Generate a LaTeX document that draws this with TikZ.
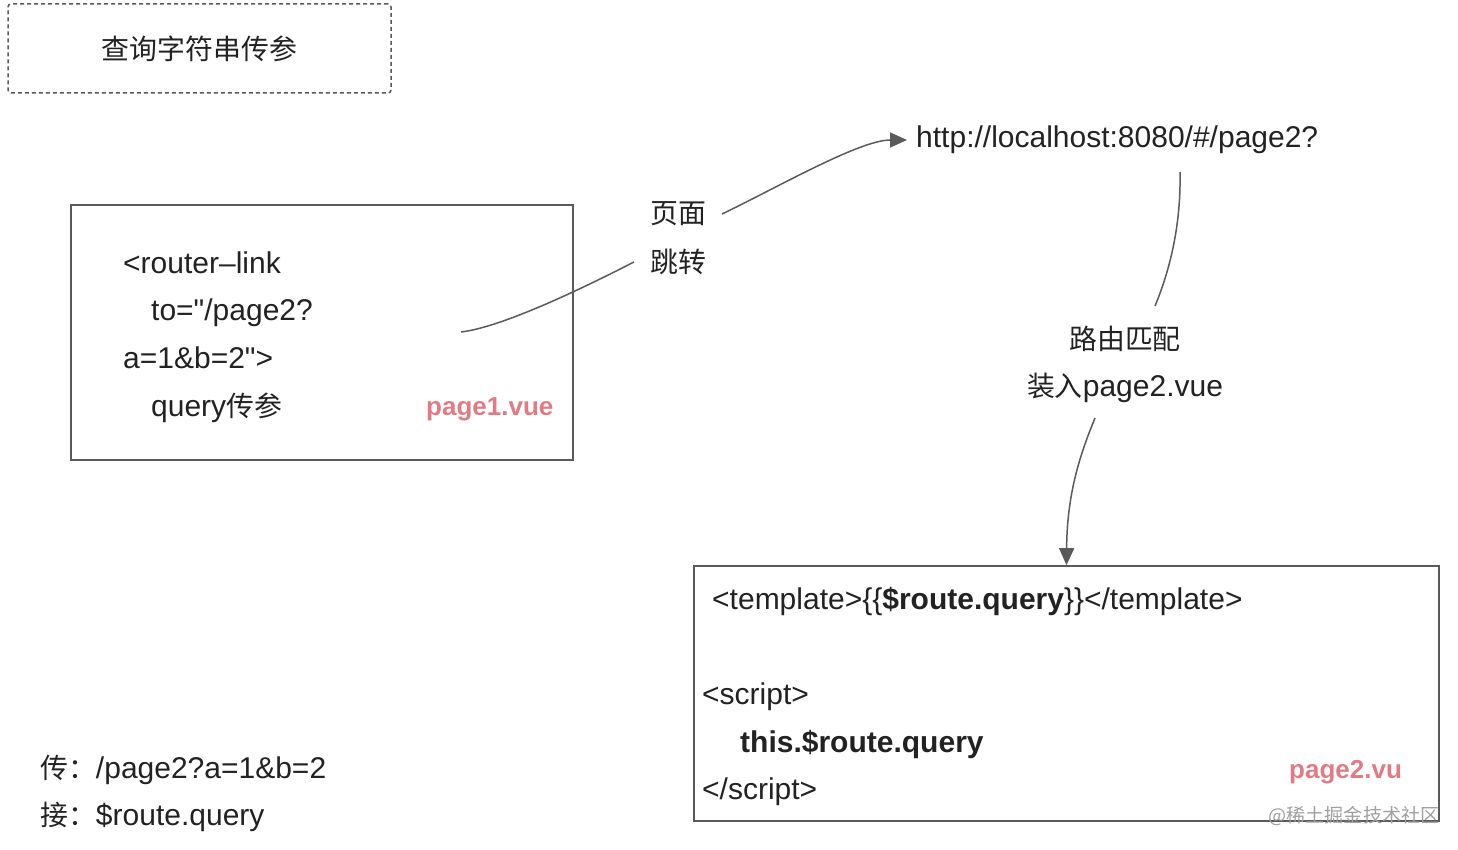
\documentclass[tikz,border=0pt]{standalone}
\usepackage{fontspec}
\setmainfont{Liberation Sans}
\newfontfamily\cjk[Scale=0.93]{Noto Sans CJK SC}
\usetikzlibrary{arrows.meta}
\definecolor{textgray}{HTML}{222222}
\definecolor{linegray}{HTML}{5A5A5A}
\definecolor{vuepink}{HTML}{E07B84}
\definecolor{markgray}{HTML}{A0A0A0}
\begin{document}
\begin{tikzpicture}[
        x=1pt, y=-1pt,
        every node/.style={font=\fontsize{30}{36}\selectfont, text=textgray, inner sep=0pt},
        codebox/.style={draw=linegray, line width=1.6pt},
        code/.style={anchor=base west},
        filename/.style={anchor=base west, font=\fontsize{26}{30}\selectfont\bfseries, text=vuepink},
        hoplabel/.style={inner xsep=16pt},
        link/.style={draw=linegray, line width=1.5pt},
        linkarrow/.style={link, -{Triangle[length=17pt,width=15pt]}}
        ]
        \useasboundingbox (0,0) rectangle (1458,850);
        % title
        \node[draw=linegray, line width=1.5pt, dash pattern=on 4pt off 3pt, rounded corners=3pt,
              minimum width=383pt, minimum height=89pt] (title) at (199.5,48.5) {\cjk 查询字符串传参};
        % page1.vue
        \node[codebox, minimum width=502pt, minimum height=255pt] (page1box) at (322,332.5) {};
        \node[code] (link1) at (123,273) {<router–link};
        \node[code] (link2) at (151,320) {to=\textquotedbl/page2?};
        \node[code] (link3) at (123,368) {a=1\&b=2\textquotedbl>};
        \node[code] (link4) at (151,416) {query{\cjk 传参}};
        \node[filename] (page1name) at (426,415) {page1.vue};
        % page2.vue
        \node[codebox, minimum width=745pt, minimum height=255pt] (page2box) at (1066.5,693.5) {};
        \node[code] (tpl) at (712,609) {<template>\{\{{\bfseries\$route.query}\}\}</template>};
        \node[code] (scr1) at (702,704) {<script>};
        \node[code] (scr2) at (740,752) {\bfseries this.\$route.query};
        \node[code] (scr3) at (702,799) {</script>};
        \node[filename] (page2name) at (1289,778) {page2.vu};
        \node[font=\fontsize{20.5}{24}\selectfont, text=markgray] (mark) at (1354,816) {\cjk @稀土掘金技术社区};
        % steps
        \node[hoplabel] (jump1) at (678,214) {\cjk 页面};
        \node[hoplabel] (jump2) at (678,262) {\cjk 跳转};
        \node[anchor=west, inner xsep=9pt] (url) at (907,140) {http://localhost:8080/\#/page2?};
        \node (match1) at (1125,339) {\cjk 路由匹配};
        \node (match2) at (1125,388) {{\cjk 装入}page2.vue};
        % notes
        \node[code] (send) at (40,778) {{\cjk 传：}/page2?a=1\&b=2};
        \node[code] (take) at (40,825) {{\cjk 接：}\$route.query};
        % connectors
        \coordinate (linkstart) at (461,332);
        \coordinate (urlfoot) at (1180,172);
        \coordinate (matchtop) at (1155,306);
        \coordinate (matchfoot) at (1095,418);
        \draw[link] (linkstart) .. controls (495,328) and (560,300) .. (jump2.west);
        \draw[linkarrow] (jump1.east) .. controls (780,186) and (860,140) .. (url.west);
        \draw[link] (urlfoot) .. controls (1181,220) and (1172,265) .. (matchtop);
        \draw[linkarrow] (matchfoot) .. controls (1082,450) and (1067,490) .. (page2box.north);
\end{tikzpicture}
\end{document}
